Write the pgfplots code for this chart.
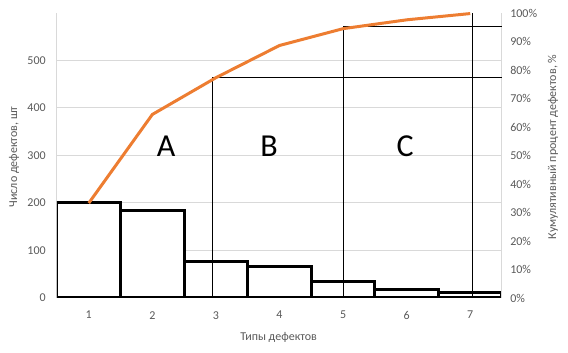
\documentclass[border=0pt]{standalone}
\usepackage{pgfplots}
\pgfplotsset{compat=1.18}
\usepackage{fontspec}
\setmainfont{Carlito}
\definecolor{excelorange}{HTML}{ED7D31}
\definecolor{gridgray}{HTML}{D9D9D9}
\definecolor{textgray}{HTML}{595959}
\pgfplotsset{
  common/.style={
    width=333.75pt, height=213.75pt, scale only axis,
    xmin=0.5, xmax=7.5,
    major tick length=0pt,
    tick label style={font=\fontsize{9}{11}\selectfont, text=textgray, inner sep=0pt},
    label style={font=\fontsize{9}{11}\selectfont, text=textgray},
  }
}
\begin{document}
\begin{tikzpicture}
\useasboundingbox (-42.75pt,-41.25pt) rectangle (383.25pt,223.5pt);
\begin{axis}[common,
  ymin=0, ymax=600,
  axis y line*=left, axis x line*=bottom,
  y axis line style={gridgray, line width=0.75pt},
  x axis line style={black, line width=0.75pt},
  ytick={0,100,200,300,400,500},
  yticklabels={0,100,200,300,400,500},
  xtick={1,2,3,4,5,6,7},
  xticklabels={1,2,3,4,5,6,7},
  yticklabel style={anchor=east, xshift=-8.25pt},
  xticklabel style={anchor=north, yshift=-9.75pt},
  ymajorgrids, grid style={gridgray, line width=0.75pt},
  ylabel={Число дефектов, шт},
  ylabel style={at={(axis description cs:-0.0966,0.495)}, anchor=center},
  xlabel={Типы дефектов},
  xlabel style={at={(axis description cs:0.498,-0.140)}, anchor=center},
  ybar, bar width=1,
]
\addplot[draw=black, fill=white, line width=2.25pt] coordinates {
  (1,200) (2,184) (3,77) (4,66) (5,35) (6,18) (7,11)};
\node[font=\fontsize{24}{28}\selectfont] at (axis cs:2.215,320) {A};
\node[font=\fontsize{24}{28}\selectfont] at (axis cs:3.835,320) {B};
\node[font=\fontsize{24}{28}\selectfont] at (axis cs:5.976,320) {C};
\end{axis}
\begin{axis}[common,
  ymin=0, ymax=100,
  axis y line*=right, axis x line=none,
  y axis line style={gridgray, line width=0.75pt},
  ytick={0,10,20,30,40,50,60,70,80,90,100},
  yticklabels={0\%,10\%,20\%,30\%,40\%,50\%,60\%,70\%,80\%,90\%,100\%},
  yticklabel style={anchor=west, xshift=6pt},
  ylabel={Кумулятивный процент дефектов, \%},
  ylabel style={at={(axis description cs:1.1146,0.53)}, anchor=center},
]
\addplot[black, line width=0.75pt] coordinates {(2.95,0) (2.95,77.3) (7.5,77.3)};
\addplot[black, line width=0.75pt] coordinates {(5.0,0) (5.0,95.2) (7.5,95.2)};
\addplot[black, line width=0.75pt] coordinates {(7.03,0) (7.03,100)};
\addplot[excelorange, line width=2.25pt] coordinates {
  (1,33.3) (2,64.4) (3,77.3) (4,88.6) (5,94.5) (6,97.6) (7,99.8)};
\end{axis}
\end{tikzpicture}
\end{document}
